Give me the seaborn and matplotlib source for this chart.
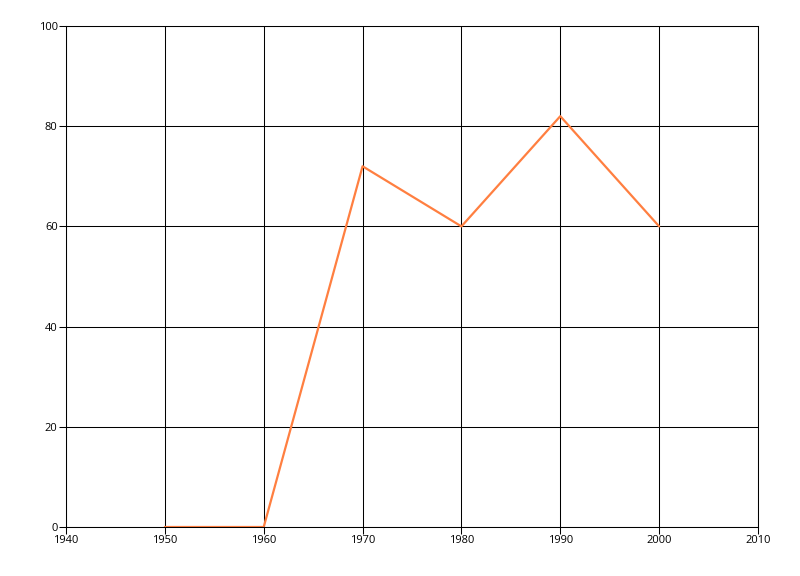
import matplotlib
matplotlib.use("Agg")
import matplotlib.pyplot as plt
import seaborn as sns
import pandas as pd

years = [1950, 1960, 1970, 1980, 1990, 2000]
values = [0, 0, 72, 60, 82, 60]
x_ticks = [1940, 1950, 1960, 1970, 1980, 1990, 2000, 2010]
y_ticks = [0, 20, 40, 60, 80, 100]

sns.set_theme(style="white")
plt.rcParams['font.family'] = ['Open Sans', 'DejaVu Sans']

df = pd.DataFrame({"year": years, "value": values})

fig = plt.figure(figsize=(8, 5.76), dpi=100)
ax = fig.add_axes([66 / 800, 49 / 576, 692 / 800, 501 / 576])

sns.lineplot(data=df, x="year", y="value", ax=ax, color="#FF7F40", linewidth=1.6)

ax.set_xlim(1940, 2010)
ax.set_ylim(0, 100)
ax.set_xticks(x_ticks)
ax.set_yticks(y_ticks)
ax.grid(True, color="black", linewidth=0.75)
ax.set_axisbelow(True)
for s in ax.spines.values():
    s.set_color("black")
    s.set_linewidth(0.75)
ax.tick_params(axis="both", direction="out", length=5, width=0.75, color="black",
               labelsize=8, labelcolor="black", pad=1, bottom=True, left=True)
ax.set_xlabel("")
ax.set_ylabel("")

fig.savefig("out.png", dpi=100)
